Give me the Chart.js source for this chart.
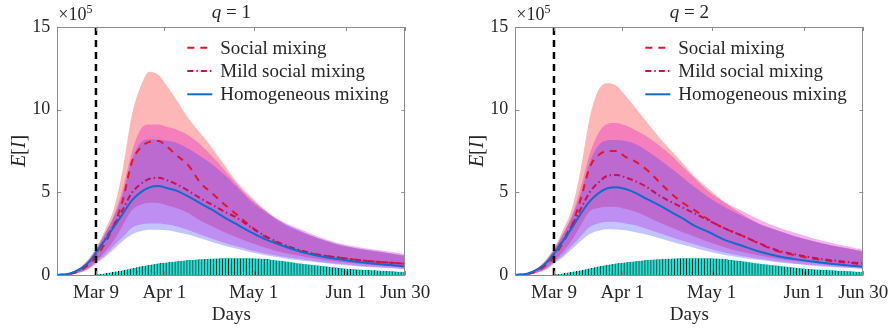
<!DOCTYPE html>
<html lang="en">
<head>
<meta charset="UTF-8">
<title>E[I] under social mixing</title>
<script src="https://cdn.jsdelivr.net/npm/chart.js@4.4.1/dist/chart.umd.min.js"></script>
<style>
    body {
        margin: 0;
        width: 896px;
        height: 329px;
        overflow: hidden;
        position: relative;
        background: #fff;
    }
    .panel {
        position: absolute;
        top: 0;
        width: 448px;
        height: 329px;
    }
    #p1 { left: 0; }
    #p2 { left: 458px; }
</style>
</head>
<body>
<div class="panel" id="p1"><canvas id="c1" width="448" height="329"></canvas></div>
<div class="panel" id="p2"><canvas id="c2" width="448" height="329"></canvas></div>

<script>
// x axis = days counted from Feb 25
const days = [0, 4, 8, 11, 13, 16, 19, 22, 25, 28, 31, 34, 37, 40, 44, 48, 52, 56, 60, 65, 70, 76, 82, 88, 94, 100, 106, 112, 117];
const tickDays = [13, 36, 66, 97, 117];
const tickLabels = ['Mar 9', 'Apr 1', 'May 1', 'Jun 1', 'Jun 30'];
const yTicks = [0, 5, 10, 15];
const lockdownDay = 13;

// reported cases (bars), one per day from Mar 9
const barStartDay = 13;
const reported = [
    0.02, 0.04, 0.06, 0.09, 0.12, 0.15, 0.18,
    0.21, 0.24, 0.27, 0.31, 0.35, 0.39, 0.43,
    0.47, 0.51, 0.55, 0.58, 0.61, 0.64, 0.67,
    0.70, 0.72, 0.74, 0.76, 0.78, 0.80, 0.82,
    0.84, 0.86, 0.88, 0.90, 0.91, 0.92, 0.94,
    0.95, 0.96, 0.97, 0.98, 0.99, 1.00, 1.00,
    1.01, 1.01, 1.02, 1.02, 1.02, 1.02, 1.02,
    1.02, 1.02, 1.02, 1.01, 1.01, 1.00, 1.00,
    0.99, 0.98, 0.97, 0.92, 0.90, 0.88, 0.86,
    0.84, 0.82, 0.80, 0.77, 0.74, 0.71, 0.69,
    0.67, 0.65, 0.63, 0.61, 0.59, 0.57, 0.55,
    0.53, 0.51, 0.49, 0.47, 0.45, 0.43, 0.41,
    0.39, 0.37, 0.36, 0.35, 0.34, 0.33, 0.32,
    0.31, 0.30, 0.29, 0.28, 0.27, 0.26, 0.25,
    0.24, 0.23, 0.22, 0.21, 0.20, 0.19, 0.18
];

// q = 1   (values x 10^5)
const q1Social   = [0, 0.05, 0.3, 0.7, 1.1, 1.9, 3.0, 4.5, 6.8, 7.7, 8.05, 8.1, 7.75, 7.25, 6.65, 5.6, 4.95, 4.3, 3.7, 2.95, 2.3, 1.8, 1.42, 1.2, 1.07, 0.93, 0.82, 0.74, 0.68];
const q1SocialHi = [0, 0.1, 0.5, 1.1, 1.6, 2.7, 4.0, 6.4, 9.6, 11.4, 12.3, 12.1, 11.4, 10.6, 9.5, 8.6, 7.7, 6.7, 5.7, 4.75, 3.9, 3.1, 2.6, 2.2, 1.85, 1.62, 1.45, 1.3, 1.15];
const q1SocialLo = [0, 0.03, 0.2, 0.5, 0.85, 1.4, 2.1, 3.0, 3.9, 4.25, 4.37, 4.35, 4.2, 4.05, 3.75, 3.3, 2.95, 2.6, 2.3, 1.95, 1.65, 1.35, 1.15, 0.95, 0.82, 0.7, 0.6, 0.52, 0.46];
const q1Mild     = [0, 0.07, 0.38, 0.82, 1.3, 2.15, 3.0, 3.95, 4.95, 5.5, 5.82, 5.88, 5.72, 5.5, 5.1, 4.65, 4.25, 3.85, 3.5, 2.9, 2.35, 1.85, 1.48, 1.22, 1.07, 0.93, 0.82, 0.74, 0.68];
const q1MildHi   = [0, 0.09, 0.45, 1.0, 1.5, 2.5, 3.6, 5.2, 7.4, 8.8, 9.1, 9.1, 8.95, 8.8, 8.45, 7.9, 7.2, 6.4, 5.55, 4.6, 3.9, 3.2, 2.75, 2.3, 1.95, 1.72, 1.55, 1.4, 1.27];
const q1MildLo   = [0, 0.02, 0.18, 0.45, 0.75, 1.2, 1.75, 2.3, 2.85, 3.05, 3.12, 3.12, 3.05, 2.95, 2.72, 2.45, 2.2, 1.95, 1.75, 1.5, 1.3, 1.1, 0.95, 0.8, 0.68, 0.58, 0.5, 0.44, 0.38];
const q1Homog    = [0, 0.08, 0.4, 0.85, 1.35, 2.1, 2.9, 3.7, 4.5, 5.0, 5.3, 5.38, 5.25, 5.1, 4.75, 4.35, 3.95, 3.5, 3.1, 2.6, 2.15, 1.75, 1.4, 1.15, 0.97, 0.82, 0.7, 0.6, 0.52];
const q1HomogHi  = [0, 0.09, 0.45, 1.0, 1.55, 2.5, 3.5, 4.9, 6.9, 8.0, 8.2, 8.2, 8.12, 8.0, 7.65, 7.2, 6.7, 6.1, 5.4, 4.5, 3.8, 3.15, 2.65, 2.22, 1.88, 1.65, 1.48, 1.32, 1.18];
const q1HomogLo  = [0, 0.02, 0.16, 0.4, 0.68, 1.08, 1.55, 2.05, 2.45, 2.65, 2.74, 2.74, 2.7, 2.6, 2.45, 2.22, 2.0, 1.78, 1.6, 1.38, 1.2, 1.02, 0.88, 0.75, 0.64, 0.55, 0.47, 0.41, 0.35];

// q = 2
const q2Social   = [0, 0.05, 0.3, 0.7, 1.1, 1.95, 3.0, 4.6, 6.5, 7.25, 7.5, 7.5, 7.15, 6.9, 6.4, 5.7, 5.0, 4.4, 3.95, 3.35, 2.85, 2.4, 1.9, 1.45, 1.2, 1.0, 0.85, 0.74, 0.66];
const q2SocialHi = [0, 0.1, 0.5, 1.1, 1.6, 2.7, 4.0, 6.4, 9.5, 11.2, 11.6, 11.45, 10.85, 10.2, 9.3, 8.4, 7.6, 6.8, 6.0, 5.2, 4.45, 3.7, 3.1, 2.7, 2.35, 2.05, 1.8, 1.6, 1.42];
const q2SocialLo = [0, 0.03, 0.2, 0.5, 0.85, 1.4, 2.1, 3.0, 3.85, 4.05, 4.13, 4.12, 4.0, 3.85, 3.55, 3.2, 2.9, 2.6, 2.35, 2.0, 1.7, 1.4, 1.18, 0.98, 0.84, 0.72, 0.62, 0.54, 0.47];
const q2Mild     = [0, 0.07, 0.38, 0.82, 1.28, 2.1, 3.0, 4.0, 5.0, 5.6, 6.0, 6.05, 5.9, 5.7, 5.35, 4.85, 4.45, 4.1, 3.75, 3.3, 2.85, 2.4, 1.92, 1.5, 1.25, 1.05, 0.9, 0.78, 0.7];
const q2MildHi   = [0, 0.09, 0.45, 1.0, 1.5, 2.5, 3.6, 5.3, 7.3, 8.6, 9.15, 9.2, 9.05, 8.8, 8.4, 7.9, 7.3, 6.6, 5.9, 5.05, 4.45, 3.9, 3.35, 2.9, 2.55, 2.22, 1.95, 1.72, 1.52];
const q2MildLo   = [0, 0.02, 0.18, 0.45, 0.75, 1.2, 1.75, 2.35, 2.9, 3.12, 3.22, 3.2, 3.12, 3.02, 2.8, 2.55, 2.32, 2.08, 1.88, 1.6, 1.38, 1.15, 0.98, 0.83, 0.7, 0.6, 0.52, 0.45, 0.39];
const q2Homog    = [0, 0.08, 0.4, 0.85, 1.3, 2.05, 2.85, 3.7, 4.45, 4.95, 5.25, 5.3, 5.2, 5.0, 4.62, 4.25, 3.85, 3.45, 3.0, 2.6, 2.15, 1.78, 1.42, 1.15, 0.96, 0.81, 0.68, 0.58, 0.5];
const q2HomogHi  = [0, 0.09, 0.45, 1.0, 1.55, 2.45, 3.5, 4.9, 6.8, 7.85, 8.15, 8.17, 8.1, 7.95, 7.55, 7.05, 6.5, 5.95, 5.35, 4.7, 4.15, 3.6, 3.1, 2.7, 2.35, 2.05, 1.8, 1.6, 1.42];
const q2HomogLo  = [0, 0.02, 0.16, 0.4, 0.68, 1.08, 1.55, 2.05, 2.48, 2.68, 2.76, 2.75, 2.7, 2.6, 2.45, 2.25, 2.04, 1.84, 1.65, 1.42, 1.22, 1.04, 0.9, 0.77, 0.66, 0.56, 0.48, 0.42, 0.36];

const SERIF = "'Liberation Serif', 'Times New Roman', serif";
const TEXT = '#262626';
const FRAME = '#8c8c8c';

const pts = arr => days.map((d, i) => ({ x: d, y: arr[i] }));

// upper edge fills down to the lower edge (next dataset)
function band(hi, lo, color, order) {
    const common = { type: 'line', borderWidth: 0, borderColor: 'transparent', pointRadius: 0, cubicInterpolationMode: 'monotone', order: order };
    return [
        Object.assign({ data: pts(hi), fill: '+1', backgroundColor: color }, common),
        Object.assign({ data: pts(lo), fill: false }, common)
    ];
}

function meanLine(arr, color, dash, text, order) {
    return {
        type: 'line', data: pts(arr), borderColor: color, borderWidth: 2, borderDash: dash,
        pointRadius: 0, fill: false, cubicInterpolationMode: 'monotone', order: order, legendText: text
    };
}

// draws mixed upright/italic runs of text from x
function drawRuns(ctx, runs, x, y, center) {
    const font = r => (r.it ? 'italic ' : '') + (r.size || 19) + 'px ' + SERIF;
    if (center) {
        let w = 0;
        runs.forEach(r => { ctx.font = font(r); w += ctx.measureText(r.t).width; });
        x -= w / 2;
    }
    runs.forEach(r => {
        ctx.font = font(r);
        ctx.fillText(r.t, x, y + (r.dy || 0));
        x += ctx.measureText(r.t).width;
    });
}

const decor = {
    id: 'decor',
    afterDatasetsDraw(chart, args, opts) {
        const { ctx, chartArea: a, scales: { x, y } } = chart;
        ctx.save();

        // box + inward ticks
        ctx.strokeStyle = FRAME;
        ctx.lineWidth = 1;
        ctx.setLineDash([]);
        ctx.beginPath();
        tickDays.forEach(d => {
            const px = Math.round(x.getPixelForValue(d)) + 0.5;
            ctx.moveTo(px, a.bottom); ctx.lineTo(px, a.bottom - 4);
            ctx.moveTo(px, a.top); ctx.lineTo(px, a.top + 4);
        });
        yTicks.forEach(v => {
            const py = Math.round(y.getPixelForValue(v)) + 0.5;
            ctx.moveTo(a.left, py); ctx.lineTo(a.left + 4, py);
            ctx.moveTo(a.right, py); ctx.lineTo(a.right - 4, py);
        });
        ctx.stroke();
        ctx.strokeRect(Math.round(a.left) + 0.5, Math.round(a.top) + 0.5,
            Math.round(a.right - a.left) - 1, Math.round(a.bottom - a.top));

        // legend inside the axes
        ctx.fillStyle = TEXT;
        ctx.textBaseline = 'middle';
        const items = chart.data.datasets.filter(d => d.legendText);
        items.forEach((d, i) => {
            const ly = a.top + 20.7 + i * 23.3;
            const lx = a.left + 130;
            ctx.strokeStyle = d.borderColor;
            ctx.lineWidth = d.borderWidth;
            ctx.setLineDash(d.borderDash || []);
            ctx.beginPath();
            ctx.moveTo(lx, ly); ctx.lineTo(lx + 25, ly);
            ctx.stroke();
            ctx.setLineDash([]);
            drawRuns(ctx, [{ t: d.legendText }], lx + 33, ly + 1);
        });

        // title, exponent, y label
        drawRuns(ctx, [{ t: 'q', it: true }, { t: ' = ' + opts.q }], (a.left + a.right) / 2, 13, true);
        ctx.textBaseline = 'alphabetic';
        drawRuns(ctx, [{ t: '\u00d710', size: 18 }, { t: '5', size: 12, dy: -7 }], a.left + 1, 20);

        ctx.translate(a.left - 38, (a.top + a.bottom) / 2);
        ctx.rotate(-Math.PI / 2);
        ctx.textBaseline = 'middle';
        drawRuns(ctx, [{ t: 'E', it: true, size: 20 }, { t: '[', size: 20 }, { t: 'I', it: true, size: 20 }, { t: ']', size: 20 }], 0, 0, true);
        ctx.restore();
    }
};

function makePanel(canvasId, q, s) {
    const datasets = [
        {
            type: 'line', data: [{ x: lockdownDay, y: 0 }, { x: lockdownDay, y: 15 }],
            borderColor: '#000', borderWidth: 2.5, borderDash: [7, 5], pointRadius: 0, fill: false, order: 0
        },
        meanLine(s.social, '#e4152a', [7, 6], 'Social mixing', 3),
        meanLine(s.mild, '#c4105a', [6, 3, 1.5, 3], 'Mild social mixing', 2),
        meanLine(s.homog, '#0f6ccf', [], 'Homogeneous mixing', 1),
        ...band(s.socialHi, s.socialLo, 'rgba(248, 30, 30, 0.32)', 22),
        ...band(s.mildHi, s.mildLo, 'rgba(230, 0, 200, 0.30)', 20),
        ...band(s.homogHi, s.homogLo, 'rgba(55, 55, 255, 0.30)', 18),
        {
            type: 'bar', data: reported.map((v, i) => ({ x: barStartDay + i, y: v })),
            backgroundColor: '#1ee2d4', borderColor: '#000',
            borderWidth: { left: 0.9, right: 0, top: 0, bottom: 0 },
            barThickness: 2.975, order: 30
        }
    ];

    return new Chart(document.getElementById(canvasId), {
        type: 'line',
        data: { datasets },
        options: {
            responsive: false,
            animation: false,
            events: [],
            devicePixelRatio: 1,
            layout: { padding: { top: 27, right: 42.7, left: 0, bottom: 0 } },
            plugins: {
                legend: { display: false },
                tooltip: { enabled: false },
                decor: { q: q }
            },
            scales: {
                x: {
                    type: 'linear', min: 0, max: 117, offset: false,
                    afterFit: sc => { sc.height = 54; },
                    afterBuildTicks: sc => { sc.ticks = tickDays.map(v => ({ value: v })); },
                    grid: { display: false, drawTicks: false, offset: false },
                    border: { display: false },
                    ticks: {
                        autoSkip: false, maxRotation: 0, padding: 7, color: TEXT,
                        font: { family: SERIF, size: 19 },
                        callback: (v, i) => tickLabels[i]
                    },
                    title: {
                        display: true, text: 'Days', color: TEXT,
                        font: { family: SERIF, size: 19 },
                        padding: { top: 0, bottom: 3 }
                    }
                },
                y: {
                    min: 0, max: 15,
                    afterFit: sc => { sc.width = 57.3; },
                    afterBuildTicks: sc => { sc.ticks = yTicks.map(v => ({ value: v })); },
                    grid: { display: false, drawTicks: false },
                    border: { display: false },
                    ticks: { padding: 7, color: TEXT, font: { family: SERIF, size: 18 } }
                }
            }
        },
        plugins: [decor]
    });
}

makePanel('c1', 1, {
    social: q1Social, socialHi: q1SocialHi, socialLo: q1SocialLo,
    mild: q1Mild, mildHi: q1MildHi, mildLo: q1MildLo,
    homog: q1Homog, homogHi: q1HomogHi, homogLo: q1HomogLo
});
makePanel('c2', 2, {
    social: q2Social, socialHi: q2SocialHi, socialLo: q2SocialLo,
    mild: q2Mild, mildHi: q2MildHi, mildLo: q2MildLo,
    homog: q2Homog, homogHi: q2HomogHi, homogLo: q2HomogLo
});
</script>
</body>
</html>
